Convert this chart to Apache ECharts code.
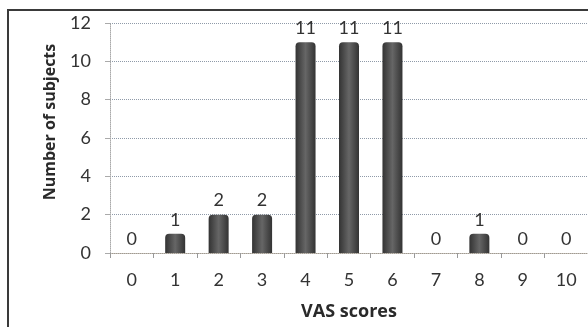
<!DOCTYPE html>
<html>
<head>
<meta charset="utf-8">
<script src="https://cdn.jsdelivr.net/npm/echarts@6/dist/echarts.min.js"></script>
<style>
  html, body { margin: 0; padding: 0; background: #fff; }
  #chart { width: 588px; height: 327px; }
</style>
</head>
<body>
<div id="chart"></div>
<script>
const vasScores = ['0', '1', '2', '3', '4', '5', '6', '7', '8', '9', '10']
const subjects = [0, 1, 2, 2, 11, 11, 11, 0, 1, 0, 0]
const yTicks = { min: 0, max: 12, interval: 2 }

const font = 'Lato'
const titleFont = 'Open Sans'
const chart = echarts.init(document.getElementById('chart'))

chart.setOption({
  animation: false,
  graphic: [
    {
      type: 'rect',
      shape: { x: 8, y: 10, width: 600, height: 340 },
      style: { fill: 'none', stroke: '#3a3a3a', lineWidth: 2 },
      silent: true
    }
  ],
  grid: { left: 110, top: 23, width: 482, height: 230 },
  xAxis: {
    type: 'category',
    data: vasScores,
    name: 'VAS scores',
    nameLocation: 'middle',
    nameGap: 50,
    nameTextStyle: { fontFamily: titleFont, fontWeight: 'bold', fontSize: 18, color: '#2a2a2a' },
    axisLine: { lineStyle: { color: '#a09a90', type: 'dotted', width: 1 } },
    axisTick: { show: true, alignWithLabel: false, length: 5, lineStyle: { color: '#999' } },
    axisLabel: { fontFamily: font, fontSize: 18, color: '#333', margin: 18 }
  },
  yAxis: {
    type: 'value',
    min: yTicks.min,
    max: yTicks.max,
    interval: yTicks.interval,
    name: 'Number of subjects',
    nameLocation: 'middle',
    nameGap: 52,
    nameTextStyle: {
      fontFamily: titleFont,
      fontWeight: 'bold',
      fontSize: 16,
      color: '#2a2a2a',
      padding: [0, 0, 0, 32]
    },
    axisLine: { show: true, lineStyle: { color: '#aaa', type: 'dotted' } },
    axisTick: { show: true, length: 5, lineStyle: { color: '#aaa' } },
    axisLabel: { fontFamily: font, fontSize: 18, color: '#333', margin: 19 },
    splitLine: { lineStyle: { color: '#8f9aa8', type: 'dotted', width: 1 } }
  },
  series: [
    {
      type: 'bar',
      data: subjects,
      barWidth: 20,
      itemStyle: {
        color: new echarts.graphic.LinearGradient(0, 0, 1, 0, [
          { offset: 0, color: '#333' },
          { offset: 0.5, color: '#666' },
          { offset: 1, color: '#333' }
        ]),
        borderRadius: [4, 4, 0, 0]
      },
      label: {
        show: true,
        position: 'top',
        distance: 5,
        fontFamily: font,
        fontSize: 18,
        color: '#333'
      }
    }
  ]
})
</script>
</body>
</html>
